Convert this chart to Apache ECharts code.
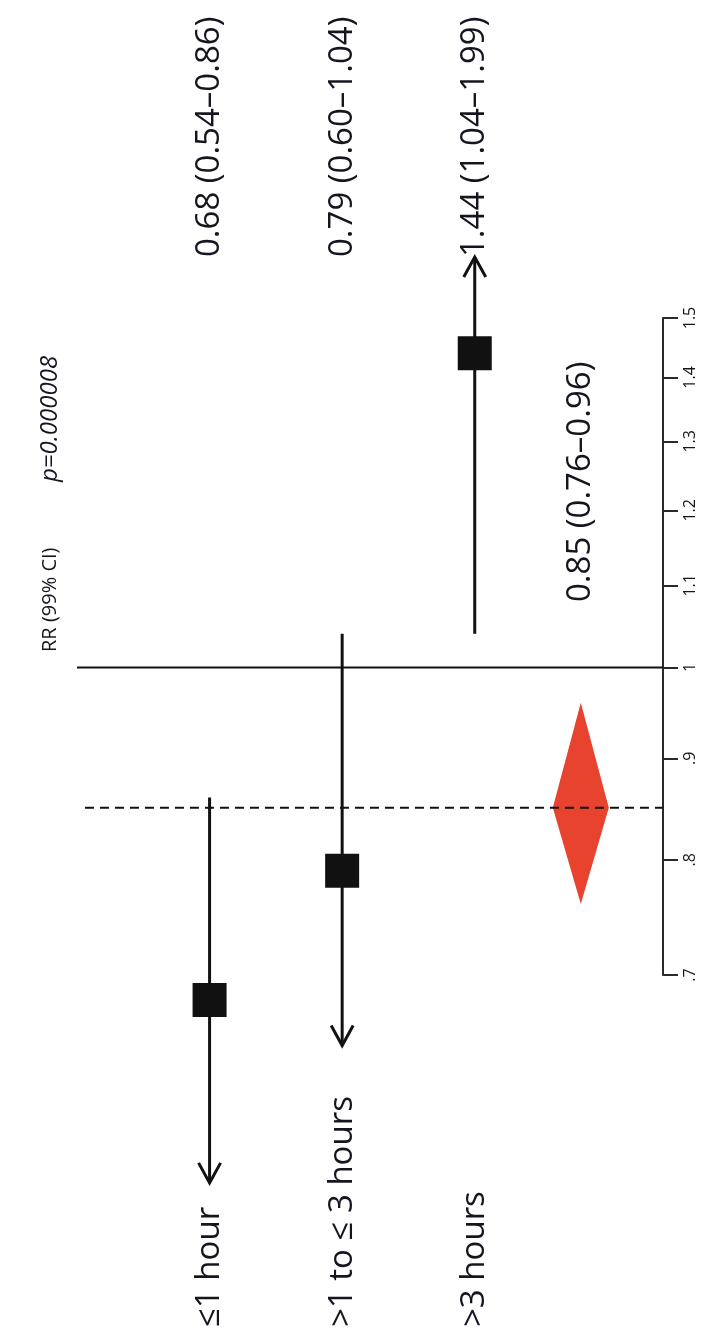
<!DOCTYPE html>
<html><head><meta charset="utf-8">
<script src="https://cdn.jsdelivr.net/npm/echarts@6/dist/echarts.min.js"></script>
<style>html,body{margin:0;padding:0;background:#fff}#c{width:710px;height:1340px}</style>
</head><body><div id="c"></div>
<script>
// ---------- data ----------
const categories = ['≤1 hour', '>1 to ≤ 3 hours', '>3 hours'];
const rr = [0.68, 0.79, 1.44];
const ciLow = [0.54, 0.60, 1.04];
const ciHigh = [0.86, 1.04, 1.99];
const rrLabels = ['0.68 (0.54–0.86)', '0.79 (0.60–1.04)', '1.44 (1.04–1.99)'];
// where the drawn whiskers stop in the picture (arrows mark truncated intervals)
const drawnLow = [0.55, 0.645, 1.04];
const drawnHigh = [0.86, 1.04, 1.61];
const pooledRR = 0.85;
const pooledLow = 0.76;
const pooledHigh = 0.96;
const pooledLabel = '0.85 (0.76–0.96)';
const headerLabel = 'RR (99% CI)';
const pLabel = 'p=0.000008';
const tickValues = [0.7, 0.8, 0.9, 1, 1.1, 1.2, 1.3, 1.4, 1.5];
const tickLabels = ['.7', '.8', '.9', '1', '1.1', '1.2', '1.3', '1.4', '1.5'];
const nullValue = 1;

// ---------- layout ----------
const rowPos = [1, 2, 3];
const pooledPos = 3.8;
const xMax = 4.42;
const labelBaseY = 1327;   // start (bottom) of category labels
const rrLabelY = 257;      // start (bottom) of RR labels
const pooledLabelY = 602;
const FONT = '"Open Sans", "Noto Sans", sans-serif';
const TXT = '#15151f';

const L = Math.log;
const chart = echarts.init(document.getElementById('c'), null, {renderer: 'canvas'});

const ciData = rr.map((v, i) => [rowPos[i], L(v), L(drawnLow[i]), L(drawnHigh[i]),
  drawnLow[i] > ciLow[i] + 1e-9 ? 1 : 0, drawnHigh[i] < ciHigh[i] - 1e-9 ? 1 : 0, i]);

function vText(x, y, text, size, extra) {
  return {
    type: 'text', x: x, y: y, rotation: Math.PI / 2,
    style: Object.assign({text: text, fill: TXT, font: size + 'px ' + FONT,
      align: 'left', verticalAlign: 'middle'}, extra || {})
  };
}

const option = {
  backgroundColor: '#fff',
  animation: false,
  grid: {left: 77, right: 47, top: 318, bottom: 365, containLabel: false},
  xAxis: {type: 'value', min: 0, max: xMax, show: false},
  yAxis: {
    type: 'value', position: 'right', min: L(0.7), max: L(1.5),
    axisLine: {show: true, onZero: false, lineStyle: {color: '#2a2a2a', width: 2}},
    axisTick: {show: true, inside: false, length: 15, customValues: tickValues.map(L),
      lineStyle: {color: '#2a2a2a', width: 2}},
    axisLabel: {show: true, customValues: tickValues.map(L), rotate: 90, margin: 19,
      color: TXT, fontFamily: FONT, fontSize: 16,
      formatter: v => { const k = tickValues.findIndex(t => Math.abs(L(t) - v) < 1e-6); return k >= 0 ? tickLabels[k] : ''; }},
    splitLine: {show: false}
  },
  series: [
    {
      type: 'line', symbol: 'none', silent: true,
      data: [[0, L(nullValue)], [xMax, L(nullValue)]],
      lineStyle: {color: '#111', width: 2}
    },
    {
      type: 'line', symbol: 'none', silent: true,
      data: [[0.06, L(pooledRR)], [xMax, L(pooledRR)]],
      lineStyle: {color: '#111', width: 2, type: [9, 6]}
    },
    {
      type: 'custom', clip: false, silent: true,
      data: ciData,
      renderItem: function (params, api) {
        const lo = api.coord([api.value(0), api.value(2)]);
        const hi = api.coord([api.value(0), api.value(3)]);
        const c = api.coord([api.value(0), api.value(1)]);
        const idx = api.value(6);
        const ch = [
          {type: 'line', shape: {x1: lo[0], y1: lo[1], x2: hi[0], y2: hi[1]},
            style: {stroke: '#111', lineWidth: 3}},
          {type: 'rect', shape: {x: c[0] - 17, y: c[1] - 17, width: 34, height: 34},
            style: {fill: '#111'}}
        ];
        if (api.value(4)) ch.push({type: 'polyline', shape: {points: [[lo[0] - 11, lo[1] - 20], [lo[0], lo[1]], [lo[0] + 11, lo[1] - 20]]},
          style: {stroke: '#111', lineWidth: 3, fill: null}});
        if (api.value(5)) ch.push({type: 'polyline', shape: {points: [[hi[0] - 11, hi[1] + 20], [hi[0], hi[1]], [hi[0] + 11, hi[1] + 20]]},
          style: {stroke: '#111', lineWidth: 3, fill: null}});
        ch.push(vText(c[0], labelBaseY, categories[idx], 33));
        ch.push(vText(c[0], rrLabelY, rrLabels[idx], 33));
        return {type: 'group', children: ch};
      }
    },
    {
      type: 'custom', clip: false, silent: true,
      data: [[pooledPos, L(pooledRR), L(pooledLow), L(pooledHigh)]],
      renderItem: function (params, api) {
        const c = api.coord([api.value(0), api.value(1)]);
        const lo = api.coord([api.value(0), api.value(2)]);
        const hi = api.coord([api.value(0), api.value(3)]);
        return {type: 'group', children: [
          {type: 'polygon', shape: {points: [[lo[0], lo[1]], [c[0] - 28, c[1]], [hi[0], hi[1]], [c[0] + 28, c[1]]]},
            style: {fill: '#e8432e'}},
          vText(c[0], pooledLabelY, pooledLabel, 33)
        ]};
      }
    }
  ],
  graphic: [
    vText(50, 652, headerLabel, 20),
    vText(50, 482, pLabel, 24, {font: 'italic 24px ' + FONT})
  ]
};
chart.setOption(option);
</script></body></html>
